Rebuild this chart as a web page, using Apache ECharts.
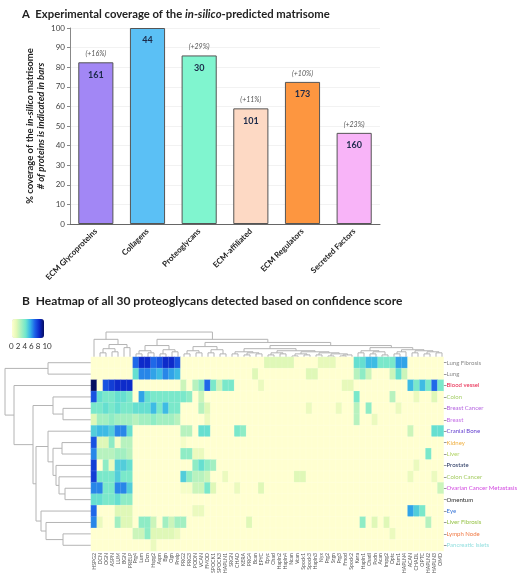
<!DOCTYPE html>
<html><head><meta charset="utf-8">
<script src="https://cdn.jsdelivr.net/npm/echarts@6/dist/echarts.min.js"></script>
<style>html,body{margin:0;padding:0;background:#fff}#c{width:520px;height:579px}</style>
</head><body><div id="c"></div>
<script>
// ---------- Panel A data ----------
const categories = ['ECM Glycoproteins', 'Collagens', 'Proteoglycans', 'ECM-affiliated', 'ECM Regulators', 'Secreted Factors'];
const coverage = [82.5, 100, 86, 59, 72.5, 46.5];
const proteinCounts = [161, 44, 30, 101, 173, 160];
const increase = ['(+16%)', '', '(+29%)', '(+11%)', '(+10%)', '(+23%)'];
const yTicks = [0, 10, 20, 30, 40, 50, 60, 70, 80, 90, 100];

// ---------- Panel B data ----------
const heatRows = ['Lung Fibrosis', 'Lung', 'Blood vessel', 'Colon', 'Breast Cancer', 'Breast', 'Cranial Bone', 'Kidney', 'Liver', 'Prostate', 'Colon Cancer', 'Ovarian Cancer Metastasis', 'Omentum', 'Eye', 'Liver Fibrosis', 'Lymph Node', 'Pancreatic Islets'];
const heatCols = ['HSPG2', 'DCN', 'OGN', 'ASPN', 'LUM', 'BGN', 'PRELP', 'Prg4', 'Lum', 'Dcn', 'Hspg2', 'Aspn', 'Bgn', 'Ogn', 'Prelp', 'PRG2', 'PRG3', 'PODN', 'VCAN', 'FMOD', 'SPOCK1', 'SPOCK3', 'HAPLN1', 'SRGN', 'CHAD', 'KERA', 'PRG4', 'Bcan', 'EPYC', 'Epyc', 'Chad', 'Hapln2', 'Hapln4', 'Ncan', 'Vcan', 'Spock1', 'Spock3', 'Hapln3', 'Nyx', 'Prg2', 'Srgn', 'Prg3', 'Fmod', 'Spock2', 'Kera', 'Hapln1', 'Chadl', 'Podn', 'Acan', 'Impg2', 'Optc', 'Esm1', 'HAPLN4', 'ACAN', 'CHADL', 'OPTC', 'HAPLN2', 'HAPLN3', 'OMD'];
// non-zero confidence scores per row: [column index, score]
const heatCells = [
  [[7,7],[8,8.5],[9,8.5],[10,7],[11,7.5],[12,8.5],[13,8.5],[14,7.5],[29,1.5],[30,1.5],[31,1.5],[32,1.5],[33,1.5],[38,1.2],[39,1.2],[40,1.2],[44,4.5],[45,4.5],[46,5.5],[47,5.5],[48,4],[49,4],[50,4],[51,6],[52,6]],
  [[7,4.5],[8,6.5],[9,6.5],[10,6],[11,5.5],[12,6.5],[13,6],[14,5.5],[27,1.5],[36,1.5],[37,1.5],[44,2.5],[45,3.5],[46,2],[50,2],[51,4.5],[52,2]],
  [[0,10],[2,7.5],[3,8],[4,8.5],[5,8.5],[6,8.5],[15,2],[17,2.5],[18,3.5],[19,7],[20,4],[21,2],[22,4],[23,4],[28,1],[42,1.2],[43,1.2],[53,5.5],[54,4],[55,5.5],[56,4],[57,7],[58,4]],
  [[0,7.5],[1,4.5],[2,4],[3,4],[4,4.5],[5,4.5],[6,4],[8,6],[9,4.5],[10,4],[11,4],[12,4],[13,4],[14,4],[15,4],[16,3.5],[18,2],[44,4],[50,2.5],[54,1],[57,1.5]],
  [[0,4],[1,4],[2,4.5],[3,4],[4,4.5],[5,4],[6,4],[7,4.5],[8,4.5],[9,4.5],[10,5.5],[11,4],[12,5.5],[13,4],[14,4],[18,2.5],[19,1.5],[36,1],[41,1],[44,2.5],[46,3.5],[51,1]],
  [[0,1.5],[1,3],[2,3],[3,3.5],[4,3],[5,3],[6,3],[7,2.5],[8,3],[9,3],[10,3.5],[11,3],[12,3],[13,3],[14,2.5],[19,1],[44,2.5],[47,1]],
  [[0,5],[1,5.5],[2,5.5],[3,5],[4,6.5],[5,6.5],[6,4.5],[15,2.5],[16,2.5],[18,4.5],[19,4.5],[24,4],[25,3.5],[53,2],[57,4.5],[58,4.5]],
  [[0,7.5],[1,1.5],[2,1.5],[3,3.5],[4,0.5],[5,2.5],[6,2.5],[15,0.5]],
  [[0,6.5],[1,2.5],[2,2.5],[3,2.5],[4,3],[5,3],[6,2.5],[15,3.5],[16,3.5],[17,1],[18,1],[56,4]],
  [[0,8],[2,3.5],[3,1],[4,5],[5,5],[6,4.5],[17,3.5],[18,4.5],[19,3.5],[20,3],[54,1]],
  [[0,8],[1,4],[2,4],[3,4],[4,5],[5,4],[6,4],[15,5],[16,3.5],[17,2.5],[18,2.5],[19,2],[22,1],[34,1.5],[35,1.5],[53,1],[57,1]],
  [[0,6.5],[1,6.5],[2,4],[3,4],[4,6.5],[5,6.5],[6,5],[15,0.5],[16,0.5],[17,2],[18,2],[19,4],[20,1.5],[24,1],[28,1.5],[58,2]],
  [[0,4.5],[1,4.5],[2,4],[3,4],[4,4.5],[5,3.5],[6,3.5]],
  [[0,7],[4,1.5],[5,1.5],[6,1.5],[17,1],[18,1],[53,6],[54,5],[55,4]],
  [[0,6.5],[1,1],[4,3],[5,1.5],[6,1.5],[8,3.5],[9,3.5],[10,2],[12,3],[13,2],[14,3],[15,3],[26,1.5],[45,3.5],[47,1.5],[49,1.5],[56,2.5]],
  [[7,2],[8,2],[9,3.5],[10,1.5],[11,1.5],[12,1.5],[13,1.5],[14,1],[50,1]],
  [[10,1]]
];
// dendrograms: [merge height, left, right]; leaves are row / column indices
const rowTree = [86, [43, 0, 1], [77, 2, [58, [38, 3, [28, 4, 5]], [55, [43, 6, [38, [29, 7, 8], [35, 9, [32, 10, [26, 11, 12]]]]], [50, 13, [45, 14, [28, 15, 16]]]]]]];
const colTree = [24,
  [17, 0, [12, [8, [4, 1, 2], [5, 3, 4]], [9, 5, 6]]],
  [17,
    [11, [6, [3, 7, 8], [4, 9, 10]], [7, [3, 11, 12], [5, 13, 14]]],
    [14,
      [10, [6, [3, 15, 16], [4, 17, 18]], [7, [4, 19, 20], [3, 21, 22]]],
      [11,
        [8, [5, [3, 23, 24], [4, [2, 25, 26], [3, 27, 28]]], [6, [4, [2, 29, 30], [3, 31, 32]], [5, [3, [1, 33, 34], [2, 35, 36]], [4, [2, 37, 38], [3, [1, 39, 40], [2, [1, 41, 42], 43]]]]]],
        [9, [6, [4, 44, 45], [5, [3, 46, 47], [2, 48, 49]]], [7, [5, [3, 50, 51], 52], [6, [4, 53, 54], [5, [3, 55, 56], [4, 57, 58]]]]]
      ]
    ]
  ]
];

// ---------- build ----------
const heatData = [];
heatRows.forEach((r, ri) => {
  const m = {};
  heatCells[ri].forEach(([c, v]) => { m[c] = v; });
  heatCols.forEach((c, ci) => heatData.push([ci, ri, m[ci] || 0]));
});
function dendroSegs(tree) {
  const segs = [];
  (function walk(n) {
    if (typeof n === 'number') return { p: n, h: 0 };
    const A = walk(n[1]), B = walk(n[2]);
    segs.push([A.p, A.h, A.p, n[0], B.p, n[0], B.p, B.h]);
    return { p: (A.p + B.p) / 2, h: n[0] };
  })(tree);
  return segs;
}
function dendroRender(swap) {
  return function (params, api) {
    const pts = [];
    for (let k = 0; k < 4; k++) {
      const p = api.value(2 * k), h = api.value(2 * k + 1);
      pts.push(api.coord(swap ? [h, p] : [p, h]));
    }
    return { type: 'polyline', shape: { points: pts }, style: { stroke: '#b4b4b4', lineWidth: 1, fill: null } };
  };
}
const rowLabelColors = ['#8a8a8a', '#8a8a8a', '#e8254d', '#a6cf6a', '#b565e0', '#c46ee6', '#6440d0', '#f0b040', '#b2d465', '#1f2f5a', '#a5cc62', '#d248e0', '#2a2a2a', '#3b78d8', '#98c44a', '#f07a45', '#96e0e0'];
const barColors = ['#a287f5', '#5bc0f5', '#80f5cf', '#fdd9c4', '#fd9640', '#f8b4f8'];
const FF = 'Lato';

const chart = echarts.init(document.getElementById('c'), null, { renderer: 'canvas' });
chart.setOption({
  animation: false,
  backgroundColor: '#fff',
  textStyle: { fontFamily: FF },
  title: [
    { left: 17, top: 4, text: '{b|A  Experimental coverage of the }{bi|in-silico}{b|-predicted matrisome}',
      textStyle: { rich: { b: { fontFamily: FF, fontWeight: 'bold', fontSize: 11.3, color: '#222' }, bi: { fontFamily: FF, fontWeight: 'bold', fontStyle: 'italic', fontSize: 11.3, color: '#222' } } } },
    { left: 17, top: 290, text: 'B  Heatmap of all 30 proteoglycans detected based on confidence score',
      textStyle: { fontFamily: FF, fontWeight: 'bold', fontSize: 12, color: '#222' } }
  ],
  grid: [
    { left: 70, top: 28, width: 310, height: 196 },
    { left: 91, top: 331, width: 354, height: 26 },
    { left: 4, top: 357, width: 87, height: 194 },
    { left: 91, top: 357, width: 354, height: 194 }
  ],
  xAxis: [
    { gridIndex: 0, type: 'category', data: categories,
      axisLine: { lineStyle: { color: '#666' } }, axisTick: { show: false },
      axisLabel: { interval: 0, rotate: 45, fontSize: 8, fontWeight: 'bold', color: '#222', margin: 6 } },
    { gridIndex: 1, type: 'value', min: -0.5, max: 58.5, show: false },
    { gridIndex: 2, type: 'value', min: 0, max: 87, inverse: true, show: false },
    { gridIndex: 3, type: 'category', data: heatCols, axisLine: { show: false }, axisTick: { show: false },
      axisLabel: { interval: 0, rotate: 90, fontSize: 5.2, color: '#555', margin: 2 } }
  ],
  yAxis: [
    { gridIndex: 0, type: 'value', min: yTicks[0], max: yTicks[yTicks.length - 1], interval: 10,
      axisLine: { show: true, lineStyle: { color: '#888' } },
      axisTick: { show: true, length: 3, lineStyle: { color: '#888' } },
      axisLabel: { fontSize: 8, color: '#444', margin: 5 },
      splitLine: { lineStyle: { color: '#f2f2f2' } },
      name: '{a|% coverage of the }{ai|in-silico}{a| matrisome}\n{bi|# of proteins is indicated in bars}',
      nameLocation: 'middle', nameRotate: 90, nameGap: 24, nameMoveOverlap: false,
      nameTextStyle: { lineHeight: 11, rich: {
        a: { fontFamily: FF, fontWeight: 'bold', fontSize: 9.5, color: '#222', lineHeight: 11 },
        ai: { fontFamily: FF, fontWeight: 'bold', fontStyle: 'italic', fontSize: 9.5, color: '#222', lineHeight: 11 },
        bi: { fontFamily: FF, fontWeight: 'bold', fontStyle: 'italic', fontSize: 9.5, color: '#222', lineHeight: 11 } } } },
    { gridIndex: 1, type: 'value', min: 0, max: 25, show: false },
    { gridIndex: 2, type: 'value', min: -0.5, max: 16.5, inverse: true, show: false },
    { gridIndex: 3, type: 'category', data: heatRows, inverse: true, position: 'right',
      axisLine: { show: false },
      axisTick: { show: true, length: 3, alignWithLabel: true, lineStyle: { color: '#999' } },
      axisLabel: { fontSize: 6, margin: 3, color: (v, i) => rowLabelColors[i] } }
  ],
  visualMap: {
    type: 'continuous', min: 0, max: 10, seriesIndex: 4, orient: 'horizontal',
    left: 12, top: 319, itemWidth: 19, itemHeight: 32, padding: 0, calculable: false, hoverLink: false,
    text: null, showLabel: false,
    inRange: { color: ['#ffffd0', '#e2f8b6', '#a8f0c0', '#6ee6cc', '#36b4e8', '#1c60e8', '#0c28c8', '#060e60'] }
  },
  graphic: [
    { type: 'text', left: 9, top: 342, style: { text: '0 2 4 6 8 10', fontSize: 8, fontFamily: FF, fill: '#333' } }
  ],
  series: [
    { type: 'bar', xAxisIndex: 0, yAxisIndex: 0, barWidth: '68%', z: 3,
      data: coverage.map((v, i) => ({ value: v, itemStyle: { color: barColors[i] } })),
      itemStyle: { borderColor: '#555', borderWidth: 1 },
      label: { show: true, position: 'insideTop', distance: 8, fontSize: 9, fontWeight: 'bold', color: '#1b2a4a',
        formatter: p => String(proteinCounts[p.dataIndex]) } },
    { type: 'bar', xAxisIndex: 0, yAxisIndex: 0, barWidth: '68%', barGap: '-100%', z: 2,
      data: coverage, itemStyle: { color: 'rgba(0,0,0,0)' },
      label: { show: true, position: 'top', distance: 5, fontSize: 7, fontStyle: 'italic', color: '#555',
        formatter: p => increase[p.dataIndex] } },
    { type: 'custom', xAxisIndex: 1, yAxisIndex: 1, renderItem: dendroRender(false), data: dendroSegs(colTree), silent: true },
    { type: 'custom', xAxisIndex: 2, yAxisIndex: 2, renderItem: dendroRender(true), data: dendroSegs(rowTree), silent: true },
    { type: 'heatmap', xAxisIndex: 3, yAxisIndex: 3, data: heatData,
      itemStyle: { borderColor: 'rgba(255,255,255,0.25)', borderWidth: 0.5 } }
  ]
});
</script>
</body></html>
